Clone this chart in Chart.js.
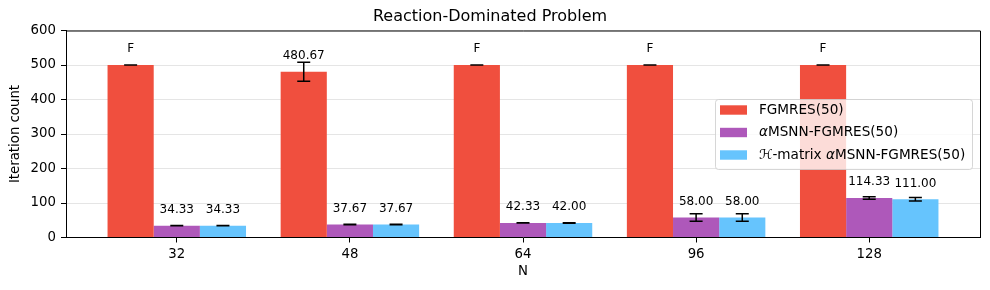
<!DOCTYPE html>
<html>
<head>
<meta charset="utf-8">
<script src="https://cdn.jsdelivr.net/npm/chart.js@4"></script>
<style>
  html, body { margin: 0; padding: 0; background: #fff; }
  #wrap { width: 990px; height: 290px; }
</style>
</head>
<body>
<div id="wrap"><canvas id="chart"></canvas></div>
<script>
const categories = ['32', '48', '64', '96', '128'];
const seriesNames = ['FGMRES(50)', 'αMSNN-FGMRES(50)', 'ℋ-matrix αMSNN-FGMRES(50)'];

const fgmres = [500, 480.67, 500, 500, 500];
const fgmresErr = [0, 27.5, 0, 0, 0];
const fgmresText = ['F', '480.67', 'F', 'F', 'F'];

const msnn = [34.33, 37.67, 42.33, 58.00, 114.33];
const msnnErr = [0.5, 0.5, 0.5, 11, 3.5];

const hmat = [34.33, 37.67, 42.00, 58.00, 111.00];
const hmatErr = [0.5, 0.5, 0.5, 11, 5];

const colors = ['#F04F3E', '#AE58BA', '#66C4FD'];
const FONT = 'DejaVu Sans';

const errors = [fgmresErr, msnnErr, hmatErr];
const texts = [fgmresText, msnn.map(v => v.toFixed(2)), hmat.map(v => v.toFixed(2))];

const toPoints = arr => arr.map((v, i) => ({ x: i, y: v }));

// error bars, value labels, top/right spines and legend
const extras = {
  id: 'extras',
  afterDatasetsDraw(chart) {
    const ctx = chart.ctx;
    const y = chart.scales.y;
    const area = chart.chartArea;
    ctx.save();
    chart.data.datasets.forEach((ds, di) => {
      const meta = chart.getDatasetMeta(di);
      meta.data.forEach((bar, j) => {
        const v = ds.data[j].y;
        const e = errors[di][j];
        const yt = y.getPixelForValue(v + e);
        const yb = y.getPixelForValue(v - e);
        ctx.strokeStyle = '#000';
        ctx.lineWidth = 1.5;
        ctx.beginPath();
        ctx.moveTo(bar.x, yt); ctx.lineTo(bar.x, yb);
        ctx.moveTo(bar.x - 6.5, yt); ctx.lineTo(bar.x + 6.5, yt);
        ctx.moveTo(bar.x - 6.5, yb); ctx.lineTo(bar.x + 6.5, yb);
        ctx.stroke();
        // label
        ctx.fillStyle = '#000';
        ctx.font = '12px ' + FONT;
        ctx.textAlign = 'center';
        ctx.textBaseline = 'alphabetic';
        ctx.fillText(texts[di][j], bar.x, y.getPixelForValue(v) - 12.7);
      });
    });
    // spines
    ctx.strokeStyle = '#000';
    ctx.lineWidth = 1;
    ctx.beginPath();
    ctx.moveTo(area.left, area.top + 0.5);
    ctx.lineTo(area.right + 0.5, area.top + 0.5);
    ctx.lineTo(area.right + 0.5, area.bottom);
    ctx.stroke();
    ctx.restore();
  },
  afterDraw(chart) {
    const ctx = chart.ctx;
    ctx.save();
    const bx = 715, by = 99, bw = 257, bh = 70;
    ctx.fillStyle = 'rgba(255,255,255,0.8)';
    ctx.strokeStyle = 'rgba(204,204,204,0.8)';
    ctx.lineWidth = 1;
    ctx.beginPath();
    ctx.roundRect(bx + 0.5, by + 0.5, bw, bh, 3);
    ctx.fill();
    ctx.stroke();
    const rows = [110, 132.5, 155];
    rows.forEach((ry, i) => {
      ctx.fillStyle = colors[i];
      ctx.fillRect(720, ry - 4.7, 27, 9.4);
      ctx.fillStyle = '#000';
      ctx.textBaseline = 'middle';
      ctx.textAlign = 'left';
      const name = seriesNames[i];
      let x = 759;
      const k = name.indexOf('α');
      const parts = k < 0 ? [[name, false]] : [[name.slice(0, k), false], ['α', true], [name.slice(k + 1), false]];
      parts.forEach(([t, it]) => {
        if (!t) return;
        ctx.font = (it ? 'italic ' : '') + '13.6px ' + FONT;
        ctx.fillText(t, x, ry);
        x += ctx.measureText(t).width;
      });
    });
    ctx.restore();
  }
};

new Chart(document.getElementById('chart'), {
  type: 'bar',
  data: {
    datasets: [
      { label: seriesNames[0], data: toPoints(fgmres), backgroundColor: colors[0] },
      { label: seriesNames[1], data: toPoints(msnn), backgroundColor: colors[1] },
      { label: seriesNames[2], data: toPoints(hmat), backgroundColor: colors[2] }
    ]
  },
  options: {
    responsive: true,
    maintainAspectRatio: false,
    animation: false,
    datasets: { bar: { categoryPercentage: 0.8, barPercentage: 1.0 } },
    layout: { padding: { left: 0, right: 10, top: 0, bottom: 0 } },
    scales: {
      x: {
        type: 'linear',
        min: -0.64,
        max: 4.64,
        offset: false,
        afterBuildTicks: s => { s.ticks = categories.map((c, i) => ({ value: i })); },
        afterFit: s => { s.height = 52.5; },
        ticks: {
          callback: v => categories[v],
          autoSkip: false,
          maxRotation: 0,
          padding: 4,
          color: '#000',
          font: { family: FONT, size: 13.3 }
        },
        grid: { display: true, drawOnChartArea: false, offset: false, tickLength: 5, tickColor: '#000' },
        border: { color: '#000', width: 1 },
        title: { display: true, text: 'N', color: '#000', font: { family: FONT, size: 13.3 }, padding: { top: 0, bottom: 10 } }
      },
      y: {
        min: 0,
        max: 600,
        afterFit: s => { s.width = 66; },
        ticks: { stepSize: 100, padding: 5, color: '#000', font: { family: FONT, size: 13.3 } },
        grid: { color: 'rgba(0,0,0,0.1)', tickLength: 5, tickColor: '#000' },
        border: { color: '#000', width: 1 },
        title: { display: true, text: 'Iteration count', color: '#000', font: { family: FONT, size: 13.3 }, padding: { top: 7.5, bottom: 0 } }
      }
    },
    plugins: {
      legend: { display: false },
      tooltip: { enabled: false },
      title: {
        display: true,
        text: 'Reaction-Dominated Problem',
        color: '#000',
        font: { family: FONT, size: 16, weight: 'normal' },
        padding: { top: 7.5, bottom: 3.8 }
      }
    }
  },
  plugins: [extras]
});
</script>
</body>
</html>
